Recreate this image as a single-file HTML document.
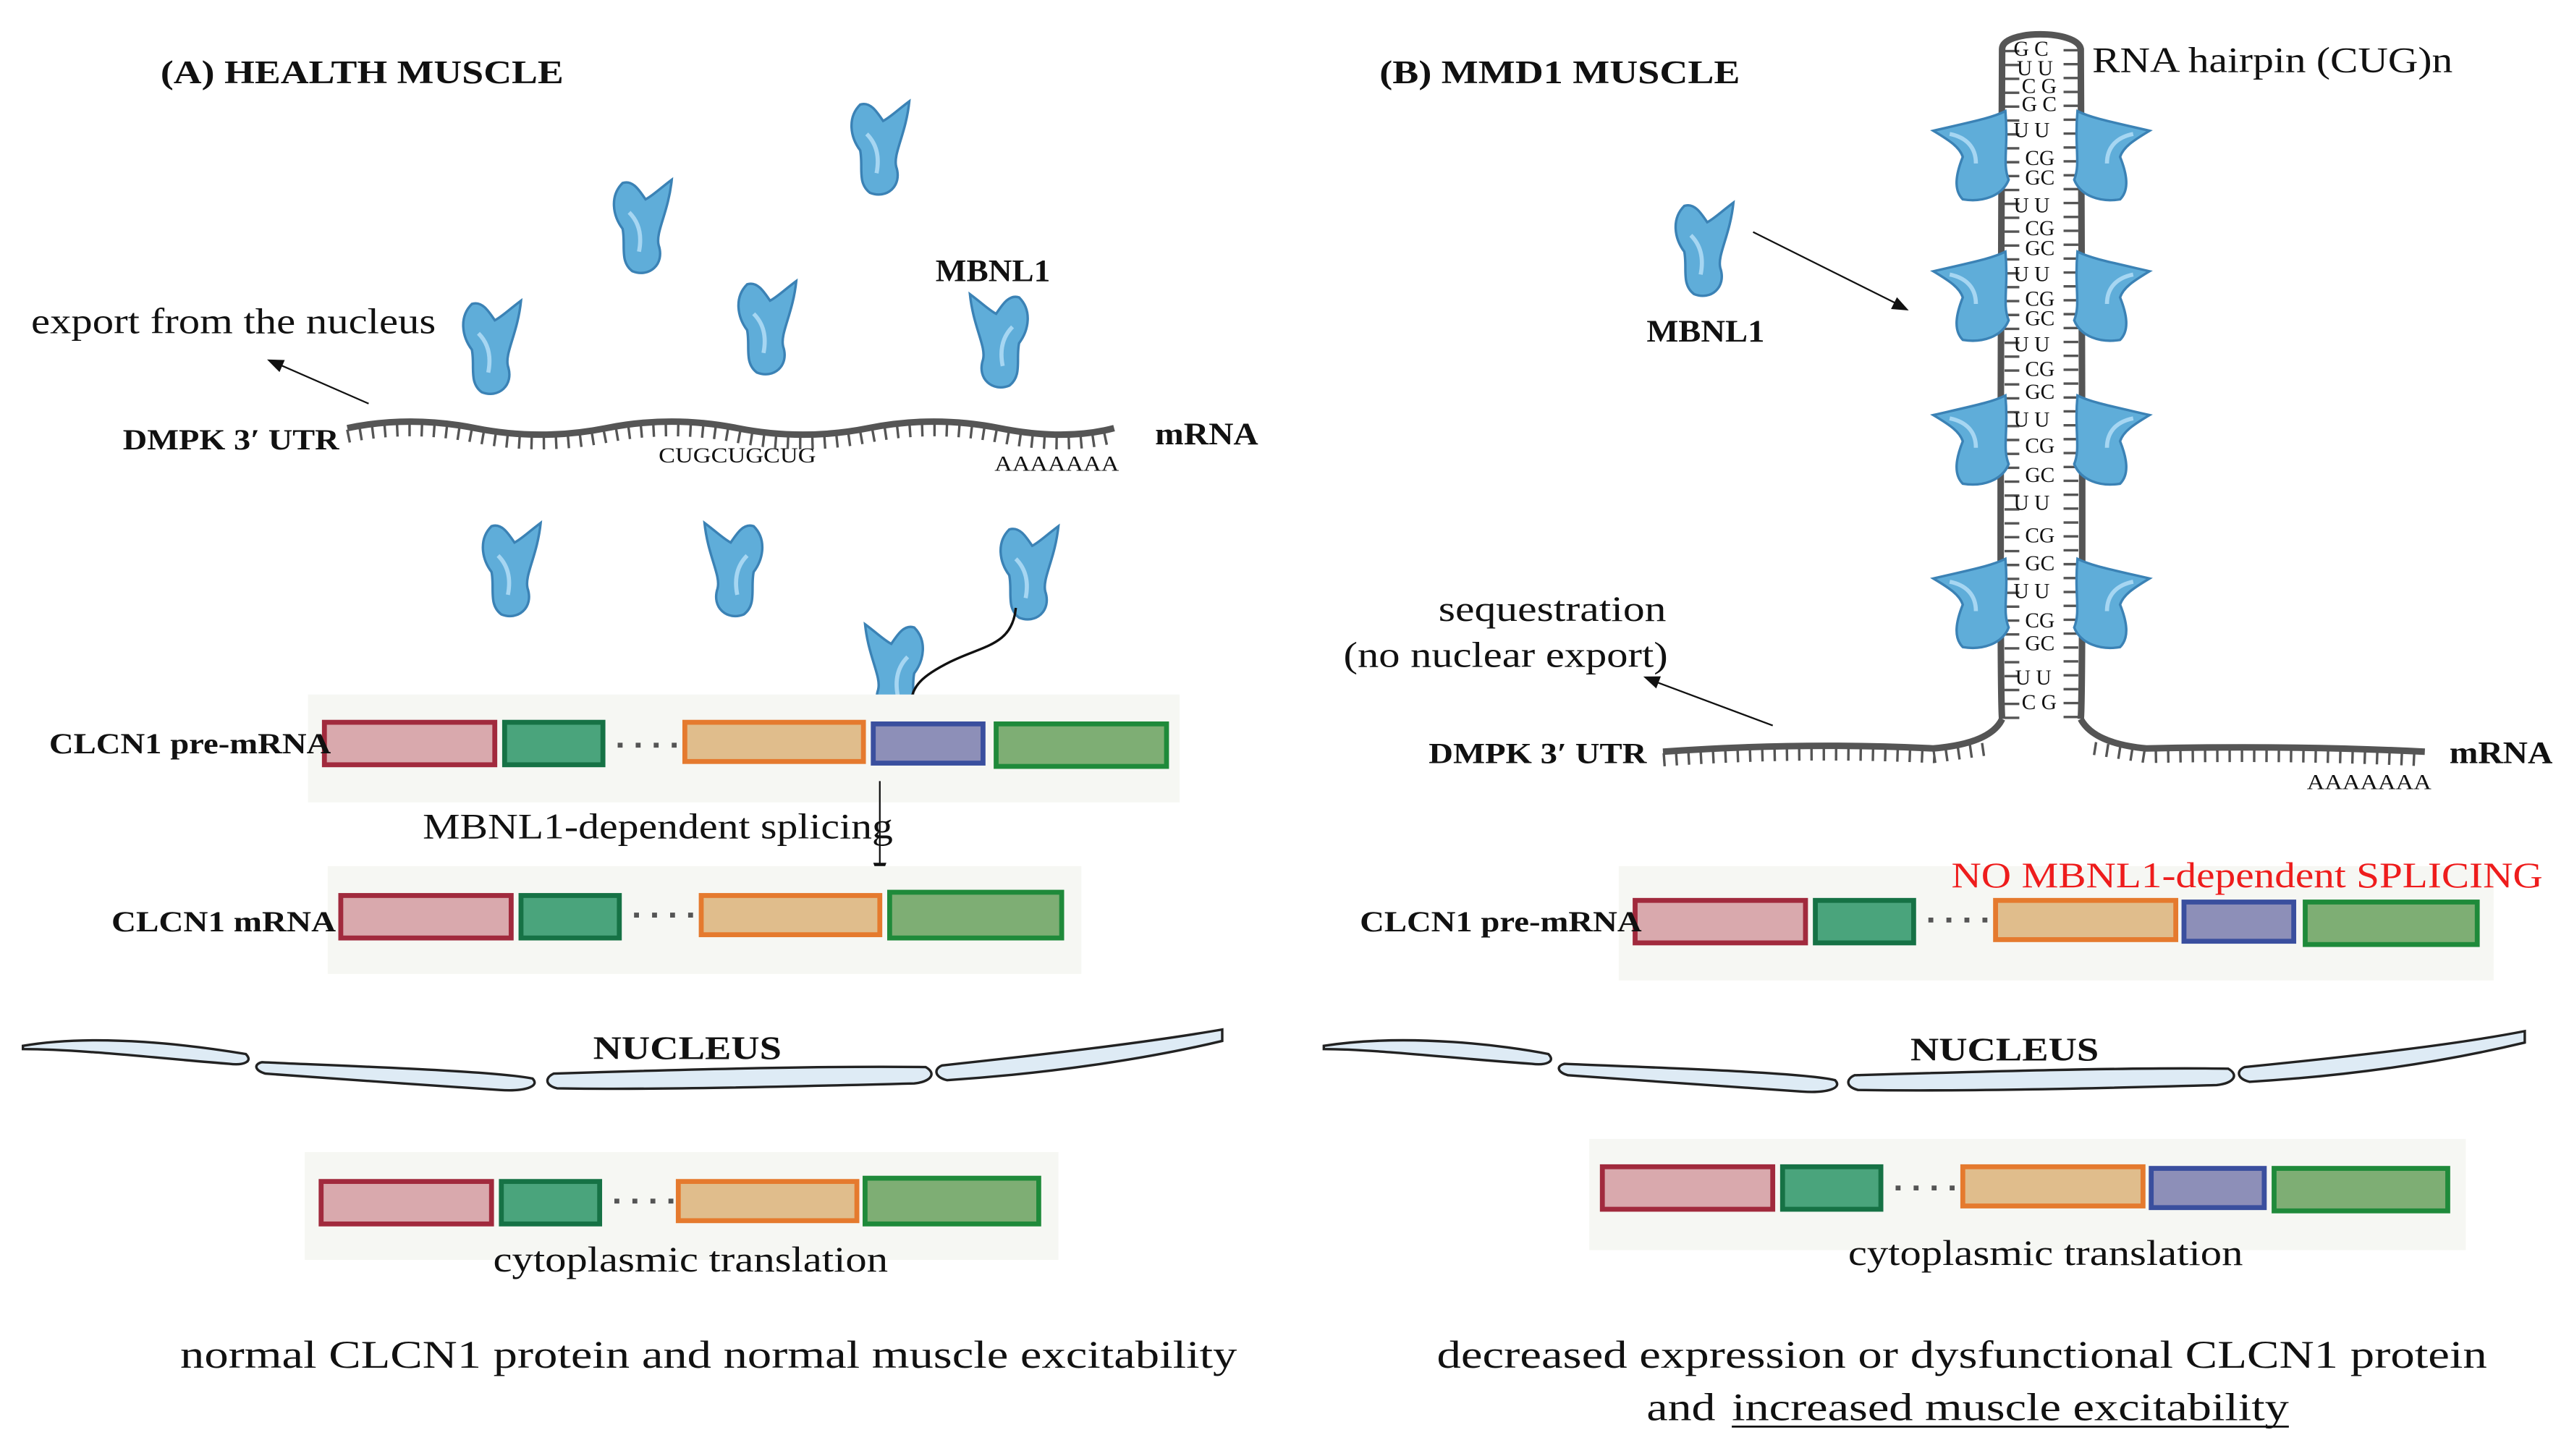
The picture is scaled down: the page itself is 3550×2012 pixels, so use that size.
<!DOCTYPE html>
<html><head><meta charset="utf-8"><style>
html,body{margin:0;padding:0;background:#fff}
svg{display:block}
text{font-family:"Liberation Serif",serif;fill:#111}
</style></head><body>
<svg width="3550" height="2012" viewBox="0 0 1568 891" preserveAspectRatio="none" xmlns="http://www.w3.org/2000/svg">
<defs>
<g id="p">
<path d="M10,6 C2,14 4,26 10,34 C12,44 8,54 16,60 C26,64 36,56 32,44 C30,36 38,24 40,4 C32,10 28,14 24,16 C20,10 16,4 10,6 Z" fill="#5fadd9" stroke="#3b82b5" stroke-width="1.5"/>
<path d="M14,24 C20,30 22,38 20,48" stroke="#a6d6f2" stroke-width="2.5" fill="none"/>
</g>
<g id="ps">
<path d="M48,2 C40,6 30,8 4,14 C14,20 20,24 22,30 C18,40 16,50 22,56 C34,58 46,54 50,44 C46,34 50,24 48,2 Z" fill="#5fadd9" stroke="#3b82b5" stroke-width="1.5"/>
<path d="M14,16 C24,18 30,24 30,34" stroke="#a6d6f2" stroke-width="2.5" fill="none"/>
</g>
</defs>

<!-- ===== LEFT PANEL ===== -->
<text x="98" y="51" font-size="20" font-weight="bold" textLength="246" lengthAdjust="spacingAndGlyphs">(A) HEALTH MUSCLE</text>
<use href="#p" x="515" y="58"/>
<use href="#p" x="370" y="106"/>
<use href="#p" x="278" y="180"/>
<use href="#p" x="446" y="168"/>
<use href="#p" transform="translate(632,176) scale(-1,1)"/>
<use href="#p" x="290" y="316"/>
<use href="#p" transform="translate(470,316) scale(-1,1)"/>
<use href="#p" x="606" y="318"/>
<use href="#p" transform="translate(568,378) scale(-1,1)"/>
<text x="571" y="172" font-size="19" font-weight="bold" textLength="70" lengthAdjust="spacingAndGlyphs">MBNL1</text>
<text x="19" y="204" font-size="22" textLength="247" lengthAdjust="spacingAndGlyphs">export from the nucleus</text>
<line x1="225" y1="247" x2="168" y2="222" stroke="#111" stroke-width="1"/>
<polygon points="163,220 173.8,220.3 170.6,227.7" fill="#111"/>
<text x="75" y="275" font-size="18" font-weight="bold" textLength="132" lengthAdjust="spacingAndGlyphs">DMPK 3′ UTR</text>
<text x="705" y="272" font-size="19" font-weight="bold" textLength="63" lengthAdjust="spacingAndGlyphs">mRNA</text>
<path d="M212,262 Q250,254 290,262 T370,262 T450,262 T530,262 T610,262 T680,262" stroke="#555" stroke-width="4" fill="none"/>
<path d="M212,267 Q250,259 290,267 T370,267 T450,267 T530,267 T610,267 T680,267" stroke="#555" stroke-width="8" stroke-dasharray="1.5 6" fill="none"/>
<text x="402" y="283" font-size="13" textLength="96" lengthAdjust="spacingAndGlyphs">CUGCUGCUG</text>
<text x="607" y="288" font-size="13" textLength="76" lengthAdjust="spacingAndGlyphs">AAAAAAA</text>
<path d="M620,372 C618,395 600,395 580,405 C562,414 557,420 556,430" stroke="#111" stroke-width="1.5" fill="none"/>
<polygon points="556,439 551.5,427 560.5,427" fill="#111"/>

<rect x="188" y="425" width="532" height="66" fill="#f6f7f3"/>
<g stroke-width="3">
<line x1="300" y1="456" x2="420" y2="456" stroke="#555" stroke-width="3" stroke-dasharray="3 8"/>
<rect x="198" y="442" width="104" height="26" fill="#d9a9ad" stroke="#a12a3d"/>
<rect x="308" y="442" width="60" height="26" fill="#4aa47c" stroke="#167245"/>
<rect x="418" y="442" width="109" height="24" fill="#e0bd8c" stroke="#e57a2e"/>
<rect x="533" y="443" width="67" height="24" fill="#8d8fb8" stroke="#3a4f9e"/>
<rect x="608" y="443" width="104" height="26" fill="#7eae74" stroke="#1f8a3a"/>
</g>
<text x="30" y="461" font-size="18" font-weight="bold" textLength="172" lengthAdjust="spacingAndGlyphs">CLCN1 pre-mRNA</text>
<line x1="537" y1="478" x2="537" y2="530" stroke="#111" stroke-width="1"/>
<polygon points="537,539 533,528 541,528" fill="#111"/>
<text x="258" y="513" font-size="22" textLength="287" lengthAdjust="spacingAndGlyphs">MBNL1-dependent splicing</text>

<rect x="200" y="530" width="460" height="66" fill="#f6f7f3"/>
<g stroke-width="3">
<line x1="310" y1="560" x2="430" y2="560" stroke="#555" stroke-width="3" stroke-dasharray="3 8"/>
<rect x="208" y="548" width="104" height="26" fill="#d9a9ad" stroke="#a12a3d"/>
<rect x="318" y="548" width="60" height="26" fill="#4aa47c" stroke="#167245"/>
<rect x="428" y="548" width="109" height="24" fill="#e0bd8c" stroke="#e57a2e"/>
<rect x="543" y="546" width="105" height="28" fill="#7eae74" stroke="#1f8a3a"/>
</g>
<text x="68" y="570" font-size="18" font-weight="bold" textLength="137" lengthAdjust="spacingAndGlyphs">CLCN1 mRNA</text>

<g fill="#deebf5" stroke="#222" stroke-width="1.5">
<path d="M14,640 C60,632 120,640 150,645 C155,650 148,652 140,651 C100,648 50,642 14,642 Z"/>
<path d="M160,650 C200,652 300,655 325,660 C330,665 320,668 305,667 C260,664 200,660 162,657 C155,655 155,651 160,650 Z"/>
<path d="M338,657 C400,655 500,652 565,653 C572,657 568,662 558,663 C480,665 400,667 340,666 C332,664 333,659 338,657 Z"/>
<path d="M575,652 C640,645 700,638 746,630 L746,637 C700,648 640,657 578,661 C570,659 570,654 575,652 Z"/>
</g>
<text x="362" y="648" font-size="20" font-weight="bold" textLength="115" lengthAdjust="spacingAndGlyphs">NUCLEUS</text>

<rect x="186" y="705" width="460" height="66" fill="#f6f7f3"/>
<g stroke-width="3">
<line x1="298" y1="735" x2="418" y2="735" stroke="#555" stroke-width="3" stroke-dasharray="3 8"/>
<rect x="196" y="723" width="104" height="26" fill="#d9a9ad" stroke="#a12a3d"/>
<rect x="306" y="723" width="60" height="26" fill="#4aa47c" stroke="#167245"/>
<rect x="414" y="723" width="109" height="24" fill="#e0bd8c" stroke="#e57a2e"/>
<rect x="528" y="721" width="106" height="28" fill="#7eae74" stroke="#1f8a3a"/>
</g>
<text x="301" y="778" font-size="22" textLength="241" lengthAdjust="spacingAndGlyphs">cytoplasmic translation</text>
<text x="110" y="837" font-size="24" textLength="645" lengthAdjust="spacingAndGlyphs">normal CLCN1 protein and normal muscle excitability</text>

<!-- ===== RIGHT PANEL ===== -->
<text x="842" y="51" font-size="20" font-weight="bold" textLength="220" lengthAdjust="spacingAndGlyphs">(B) MMD1 MUSCLE</text>
<use href="#p" x="1018" y="120"/>
<text x="1005" y="209" font-size="19" font-weight="bold" textLength="72" lengthAdjust="spacingAndGlyphs">MBNL1</text>
<line x1="1070" y1="142" x2="1158" y2="186" stroke="#111" stroke-width="1"/>
<polygon points="1165,190 1154.2,189.1 1157.8,181.9" fill="#111"/>
<text x="1277" y="44" font-size="22" textLength="220" lengthAdjust="spacingAndGlyphs">RNA hairpin (CUG)n</text>

<!-- hairpin -->
<path d="M1222,440 C1220,420 1222,40 1222,30 C1222,18 1268,18 1270,30 C1270,40 1272,420 1270,440" stroke="#555" stroke-width="4" fill="none"/>
<path d="M1228,440 L1228,30 M1264,30 L1264,440" stroke="#555" stroke-width="9" stroke-dasharray="1.5 7" fill="none"/>
<g font-size="13">
<text x="1229" y="34">G  C</text>
<text x="1231" y="46">U  U</text>
<text x="1234" y="57">C G</text>
<text x="1234" y="68">G C</text>
<text x="1229" y="84">U     U</text>
<text x="1236" y="101">CG</text><text x="1236" y="113">GC</text>
<text x="1229" y="130">U     U</text>
<text x="1236" y="144">CG</text><text x="1236" y="156">GC</text>
<text x="1229" y="172">U     U</text>
<text x="1236" y="187">CG</text><text x="1236" y="199">GC</text>
<text x="1229" y="215">U     U</text>
<text x="1236" y="230">CG</text><text x="1236" y="244">GC</text>
<text x="1229" y="261">U     U</text>
<text x="1236" y="277">CG</text><text x="1236" y="295">GC</text>
<text x="1229" y="312">U     U</text>
<text x="1236" y="332">CG</text><text x="1236" y="349">GC</text>
<text x="1229" y="366">U     U</text>
<text x="1236" y="384">CG</text><text x="1236" y="398">GC</text>
<text x="1230" y="419">U    U</text>
<text x="1234" y="434">C G</text>
</g>
<g>
<use href="#ps" x="1176" y="66"/><use href="#ps" transform="translate(1316,66) scale(-1,1)"/>
<use href="#ps" x="1176" y="152"/><use href="#ps" transform="translate(1316,152) scale(-1,1)"/>
<use href="#ps" x="1176" y="240"/><use href="#ps" transform="translate(1316,240) scale(-1,1)"/>
<use href="#ps" x="1176" y="340"/><use href="#ps" transform="translate(1316,340) scale(-1,1)"/>
</g>
<path d="M1015,460 Q1100,454 1180,458 Q1215,455 1222,440 M1270,440 Q1278,455 1310,458 Q1400,456 1480,460" stroke="#555" stroke-width="4" fill="none"/>
<path d="M1015,465 Q1100,459 1180,463 L1215,458 M1278,458 L1310,463 Q1400,461 1480,465" stroke="#555" stroke-width="8" stroke-dasharray="1.5 6" fill="none"/>
<text x="872" y="467" font-size="18" font-weight="bold" textLength="133" lengthAdjust="spacingAndGlyphs">DMPK 3′ UTR</text>
<text x="1495" y="467" font-size="19" font-weight="bold" textLength="63" lengthAdjust="spacingAndGlyphs">mRNA</text>
<text x="1408" y="483" font-size="13" textLength="76" lengthAdjust="spacingAndGlyphs">AAAAAAA</text>
<text x="878" y="380" font-size="22" textLength="139" lengthAdjust="spacingAndGlyphs">sequestration</text>
<text x="820" y="408" font-size="22" textLength="198" lengthAdjust="spacingAndGlyphs">(no nuclear export)</text>
<line x1="1082" y1="444" x2="1010" y2="417" stroke="#111" stroke-width="1"/>
<polygon points="1003,414 1013.7,413.9 1010.9,421.3" fill="#111"/>

<rect x="988" y="530" width="534" height="70" fill="#f6f7f3"/>
<text x="1191" y="543" font-size="22" textLength="361" lengthAdjust="spacingAndGlyphs" style="fill:#ee1c1c">NO MBNL1-dependent SPLICING</text>
<g stroke-width="3">
<line x1="1100" y1="563" x2="1220" y2="563" stroke="#555" stroke-width="3" stroke-dasharray="3 8"/>
<rect x="998" y="551" width="104" height="26" fill="#d9a9ad" stroke="#a12a3d"/>
<rect x="1108" y="551" width="60" height="26" fill="#4aa47c" stroke="#167245"/>
<rect x="1218" y="551" width="110" height="24" fill="#e0bd8c" stroke="#e57a2e"/>
<rect x="1333" y="552" width="67" height="24" fill="#8d8fb8" stroke="#3a4f9e"/>
<rect x="1407" y="552" width="105" height="26" fill="#7eae74" stroke="#1f8a3a"/>
</g>
<text x="830" y="570" font-size="18" font-weight="bold" textLength="172" lengthAdjust="spacingAndGlyphs">CLCN1 pre-mRNA</text>

<g fill="#deebf5" stroke="#222" stroke-width="1.5">
<path d="M808,640 C860,632 920,640 945,645 C950,650 943,652 935,651 C890,648 840,642 808,642 Z"/>
<path d="M955,651 C1000,653 1100,656 1120,661 C1125,666 1115,669 1100,668 C1055,665 1000,661 957,658 C950,656 950,652 955,651 Z"/>
<path d="M1132,658 C1200,656 1300,653 1360,654 C1367,658 1363,663 1353,664 C1280,666 1200,668 1134,667 C1126,665 1127,660 1132,658 Z"/>
<path d="M1370,653 C1440,646 1500,639 1541,631 L1541,638 C1495,649 1440,658 1373,662 C1365,660 1365,655 1370,653 Z"/>
</g>
<text x="1166" y="649" font-size="20" font-weight="bold" textLength="115" lengthAdjust="spacingAndGlyphs">NUCLEUS</text>

<rect x="970" y="697" width="535" height="68" fill="#f6f7f3"/>
<g stroke-width="3">
<line x1="1080" y1="727" x2="1200" y2="727" stroke="#555" stroke-width="3" stroke-dasharray="3 8"/>
<rect x="978" y="714" width="104" height="26" fill="#d9a9ad" stroke="#a12a3d"/>
<rect x="1088" y="714" width="60" height="26" fill="#4aa47c" stroke="#167245"/>
<rect x="1198" y="714" width="110" height="24" fill="#e0bd8c" stroke="#e57a2e"/>
<rect x="1313" y="715" width="69" height="24" fill="#8d8fb8" stroke="#3a4f9e"/>
<rect x="1388" y="715" width="106" height="26" fill="#7eae74" stroke="#1f8a3a"/>
</g>
<text x="1128" y="774" font-size="22" textLength="241" lengthAdjust="spacingAndGlyphs">cytoplasmic translation</text>
<text x="877" y="837" font-size="24" textLength="641" lengthAdjust="spacingAndGlyphs">decreased expression or dysfunctional CLCN1 protein</text>
<text x="1005" y="869" font-size="24" textLength="42" lengthAdjust="spacingAndGlyphs">and</text>
<text x="1057" y="869" font-size="24" textLength="340" lengthAdjust="spacingAndGlyphs">increased muscle excitability</text>
<line x1="1057" y1="873" x2="1397" y2="873" stroke="#111" stroke-width="1.2"/>
</svg>
</body></html>
